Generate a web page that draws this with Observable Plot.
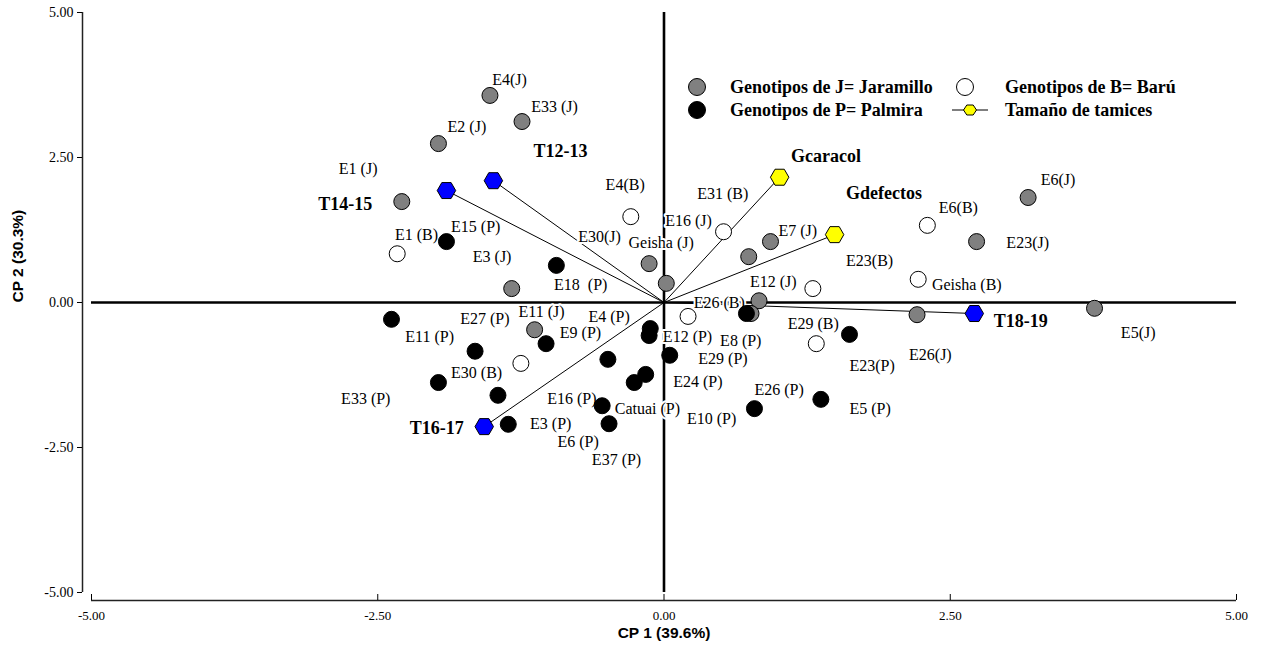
<!DOCTYPE html>
<html>
<head>
<meta charset="utf-8">
<script src="https://cdn.jsdelivr.net/npm/d3@7"></script>
<script src="https://cdn.jsdelivr.net/npm/@observablehq/plot@0.6"></script>
<style>
  body { margin: 0; background: #fff; }
  #wrap { position: relative; width: 1267px; height: 653px; overflow: hidden; }
  .leg { position: absolute; font: bold 18px "Liberation Serif", serif; line-height: 18px; white-space: nowrap; color: #000; }
  .sym { position: absolute; }
  g[aria-label="vector-labels"] text { letter-spacing: 0.6px; }
</style>
</head>
<body>
<div id="wrap"></div>
<script>
// Genotypes, Jaramillo (J)
const jaramillo = [
  {name: "E4(J)",      x: -1.52, y: 3.57,  labelX: -1.50, labelY: 3.83},
  {name: "E33 (J)",    x: -1.24, y: 3.12,  labelX: -1.16, labelY: 3.38},
  {name: "E2 (J)",     x: -1.97, y: 2.74,  labelX: -1.89, labelY: 3.02},
  {name: "E1 (J)",     x: -2.29, y: 1.74,  labelX: -2.84, labelY: 2.31},
  {name: "E3 (J)",     x: -1.33, y: 0.24,  labelX: -1.67, labelY: 0.79},
  {name: "E11 (J)",    x: -1.13, y: -0.47, labelX: -1.27, labelY: -0.16},
  {name: "E30(J)",     x: -0.13, y: 0.67,  labelX: -0.75, labelY: 1.14},
  {name: "Geisha (J)", x: 0.02,  y: 0.33,  labelX: -0.31, labelY: 1.02},
  {name: "E16 (J)",    x: 0.74,  y: 0.79,  labelX: 0.01,  labelY: 1.40},
  {name: "E7 (J)",     x: 0.93,  y: 1.05,  labelX: 1.00,  labelY: 1.24},
  {name: "E12 (J)",    x: 0.83,  y: 0.03,  labelX: 0.75,  labelY: 0.36},
  {name: "",           x: 0.76,  y: -0.19, labelX: null,  labelY: null},
  {name: "E26(J)",     x: 2.21,  y: -0.21, labelX: 2.14,  labelY: -0.91},
  {name: "E23(J)",     x: 2.73,  y: 1.05,  labelX: 2.99,  labelY: 1.03},
  {name: "E6(J)",      x: 3.18,  y: 1.81,  labelX: 3.29,  labelY: 2.12},
  {name: "E5(J)",      x: 3.76,  y: -0.10, labelX: 3.99,  labelY: -0.52}
];

// Genotypes, Barú (B)
const baru = [
  {name: "E1 (B)",     x: -2.33, y: 0.84,  labelX: -2.35, labelY: 1.16},
  {name: "E4(B)",      x: -0.29, y: 1.48,  labelX: -0.51, labelY: 2.02},
  {name: "E30 (B)",    x: -1.25, y: -1.05, labelX: -1.86, labelY: -1.22},
  {name: "E26 (B)",    x: 0.21,  y: -0.24, labelX: 0.26,  labelY: 0.00},
  {name: "E31 (B)",    x: 0.52,  y: 1.22,  labelX: 0.29,  labelY: 1.88},
  {name: "E23(B)",     x: 1.30,  y: 0.24,  labelX: 1.59,  labelY: 0.71},
  {name: "E6(B)",      x: 2.30,  y: 1.33,  labelX: 2.40,  labelY: 1.64},
  {name: "E29 (B)",    x: 1.33,  y: -0.71, labelX: 1.08,  labelY: -0.36},
  {name: "Geisha (B)", x: 2.22,  y: 0.40,  labelX: 2.34,  labelY: 0.31}
];

// Genotypes, Palmira (P)
const palmira = [
  {name: "E15 (P)",    x: -1.90, y: 1.05,  labelX: -1.86, labelY: 1.31},
  {name: "E18  (P)",   x: -0.94, y: 0.64,  labelX: -0.96, labelY: 0.31},
  {name: "E11 (P)",    x: -2.38, y: -0.29, labelX: -2.26, labelY: -0.59},
  {name: "E27 (P)",    x: -1.65, y: -0.84, labelX: -1.78, labelY: -0.29},
  {name: "E9 (P)",     x: -1.03, y: -0.71, labelX: -0.91, labelY: -0.53},
  {name: "E33 (P)",    x: -1.97, y: -1.38, labelX: -2.82, labelY: -1.67},
  {name: "E3 (P)",     x: -1.36, y: -2.10, labelX: -1.17, labelY: -2.10},
  {name: "E4 (P)",     x: -0.12, y: -0.45, labelX: -0.66, labelY: -0.24},
  {name: "E12 (P)",    x: -0.13, y: -0.57, labelX: -0.01, labelY: -0.59},
  {name: "E29 (P)",    x: 0.05,  y: -0.91, labelX: 0.30,  labelY: -0.98},
  {name: "E24 (P)",    x: -0.16, y: -1.24, labelX: 0.08,  labelY: -1.36},
  {name: "E8 (P)",     x: 0.72,  y: -0.19, labelX: 0.49,  labelY: -0.66},
  {name: "E23(P)",     x: 1.62,  y: -0.55, labelX: 1.62,  labelY: -1.09},
  {name: "E26 (P)",    x: 0.79,  y: -1.83, labelX: 0.79,  labelY: -1.50},
  {name: "E5 (P)",     x: 1.37,  y: -1.67, labelX: 1.62,  labelY: -1.83},
  {name: "E10 (P)",    x: -0.26, y: -1.38, labelX: 0.20,  labelY: -2.00},
  {name: "E16 (P)",    x: -0.54, y: -1.78, labelX: -1.02, labelY: -1.66},
  {name: "Catuai (P)", x: -0.49, y: -0.98, labelX: -0.43, labelY: -1.83},
  {name: "E6 (P)",     x: -0.48, y: -2.09, labelX: -0.93, labelY: -2.41},
  {name: "E37 (P)",    x: -1.45, y: -1.60, labelX: -0.63, labelY: -2.71}
];

// Variables: sieve sizes (tamices) and grain variables
const tamices = [
  {name: "T12-13", x: -1.49, y: 2.10,  labelX: -1.14, labelY: 2.60},
  {name: "T14-15", x: -1.90, y: 1.93,  labelX: -3.02, labelY: 1.69},
  {name: "T16-17", x: -1.57, y: -2.14, labelX: -2.22, labelY: -2.17},
  {name: "T18-19", x: 2.71,  y: -0.19, labelX: 2.88,  labelY: -0.33}
];
const granos = [
  {name: "Gcaracol",  x: 1.01, y: 2.16, labelX: 1.11, labelY: 2.52},
  {name: "Gdefectos", x: 1.49, y: 1.17, labelX: 1.59, labelY: 1.88}
];

const axisTicks = [-5, -2.5, 0, 2.5, 5];
const xTitle = "CP 1 (39.6%)";
const yTitle = "CP 2 (30.3%)";

const legendItems = [
  {label: "Genotipos de J= Jaramillo", kind: "J"},
  {label: "Genotipos de P= Palmira",   kind: "P"},
  {label: "Genotipos de B= Barú",      kind: "B"},
  {label: "Tamaño de tamices",         kind: "T"}
];

const colors = {J: "#808080", P: "#000000", B: "#ffffff", T: "#ffff00", blue: "#0000ff"};

const vectors = [...tamices, ...granos];
const genoLabels = [...jaramillo, ...baru, ...palmira].filter(d => d.name);
const fmt = d => d.toFixed(2);
const serif = "Liberation Serif, Times New Roman, serif";
const sans = "Liberation Sans, Arial, sans-serif";

const chart = Plot.plot({
  width: 1267,
  height: 653,
  marginLeft: 91,
  marginRight: 31,
  marginTop: 12,
  marginBottom: 61,
  x: {domain: [-5, 5]},
  y: {domain: [-5, 5]},
  style: {fontFamily: serif, fontSize: "12px", background: "#fff", color: "#000"},
  marks: [
    // offset axes
    Plot.ruleX([-5], {dx: -9, stroke: "#222", strokeWidth: 1.5}),
    Plot.ruleY([-5], {dy: 8, stroke: "#222", strokeWidth: 1.5}),
    Plot.axisY({ticks: axisTicks, tickFormat: fmt, dx: -9, tickSize: 5, tickPadding: 4, label: null, fontSize: 14}),
    Plot.axisX({ticks: axisTicks, tickFormat: fmt, dy: 8, tickSize: -6, tickPadding: 16, label: null, fontSize: 13}),
    // zero lines
    Plot.ruleY([0], {stroke: "#000", strokeWidth: 2.6}),
    Plot.ruleX([0], {stroke: "#000", strokeWidth: 2.6}),
    // biplot vectors
    Plot.link(vectors, {x1: 0, y1: 0, x2: "x", y2: "y", stroke: "#000", strokeWidth: 1}),
    // genotype labels
    Plot.text(genoLabels, {x: "labelX", y: "labelY", text: "name", textAnchor: "start",
      fontSize: 16, fill: "#000", stroke: "#fff", strokeWidth: 4, paintOrder: "stroke"}),
    // genotype points
    Plot.dot(baru, {x: "x", y: "y", r: 8, fill: colors.B, stroke: "#000", strokeWidth: 1}),
    Plot.dot(jaramillo, {x: "x", y: "y", r: 8, fill: colors.J, stroke: "#000", strokeWidth: 1}),
    Plot.dot(palmira, {x: "x", y: "y", r: 8, fill: colors.P, stroke: "#000", strokeWidth: 1}),
    // variable hexagons
    Plot.dot(tamices, {x: "x", y: "y", r: 8, symbol: "hexagon", rotate: 90, fill: colors.blue, stroke: "#000", strokeWidth: 1}),
    Plot.dot(granos, {x: "x", y: "y", r: 8, symbol: "hexagon", rotate: 90, fill: colors.T, stroke: "#000", strokeWidth: 1}),
    // variable labels
    Plot.text(vectors, {x: "labelX", y: "labelY", text: "name", textAnchor: "start",
      fontSize: 18, fontWeight: "bold", fill: "#000", ariaLabel: "vector-labels"}),
    // axis titles
    Plot.text([xTitle], {text: d => d, frameAnchor: "bottom", dy: 45,
      fontFamily: sans, fontWeight: "bold", fontSize: 15.5}),
    Plot.text([yTitle], {text: d => d, frameAnchor: "left", dx: -73, rotate: -90,
      fontFamily: sans, fontWeight: "bold", fontSize: 15.5})
  ]
});

const wrap = document.getElementById("wrap");
wrap.appendChild(chart);

// Legend (inside the plot area, top right), drawn as an HTML overlay
const legendPos = {
  J: {sx: 697, sy: 87, tx: 730},
  P: {sx: 697, sy: 110, tx: 730},
  B: {sx: 965, sy: 87, tx: 1005},
  T: {sx: 970, sy: 110, tx: 1005}
};
for (const item of legendItems) {
  const p = legendPos[item.kind];
  const svgNS = "http://www.w3.org/2000/svg";
  const s = document.createElementNS(svgNS, "svg");
  s.setAttribute("class", "sym");
  if (item.kind === "T") {
    s.setAttribute("width", 40); s.setAttribute("height", 20);
    s.style.left = (p.sx - 20) + "px"; s.style.top = (p.sy - 10) + "px";
    s.innerHTML = `<line x1="2" y1="10" x2="38" y2="10" stroke="#000" stroke-width="1.2"/>
      <path d="M13.5,10 L16.8,5 L23.2,5 L26.5,10 L23.2,15 L16.8,15 Z" fill="${colors.T}" stroke="#000" stroke-width="1"/>`;
  } else {
    s.setAttribute("width", 20); s.setAttribute("height", 20);
    s.style.left = (p.sx - 10) + "px"; s.style.top = (p.sy - 10) + "px";
    s.innerHTML = `<circle cx="10" cy="10" r="8.5" fill="${colors[item.kind]}" stroke="#000" stroke-width="1"/>`;
  }
  wrap.appendChild(s);
  const t = document.createElement("div");
  t.className = "leg";
  t.textContent = item.label;
  t.style.left = p.tx + "px";
  t.style.top = (p.sy - 9) + "px";
  wrap.appendChild(t);
}
</script>
</body>
</html>
